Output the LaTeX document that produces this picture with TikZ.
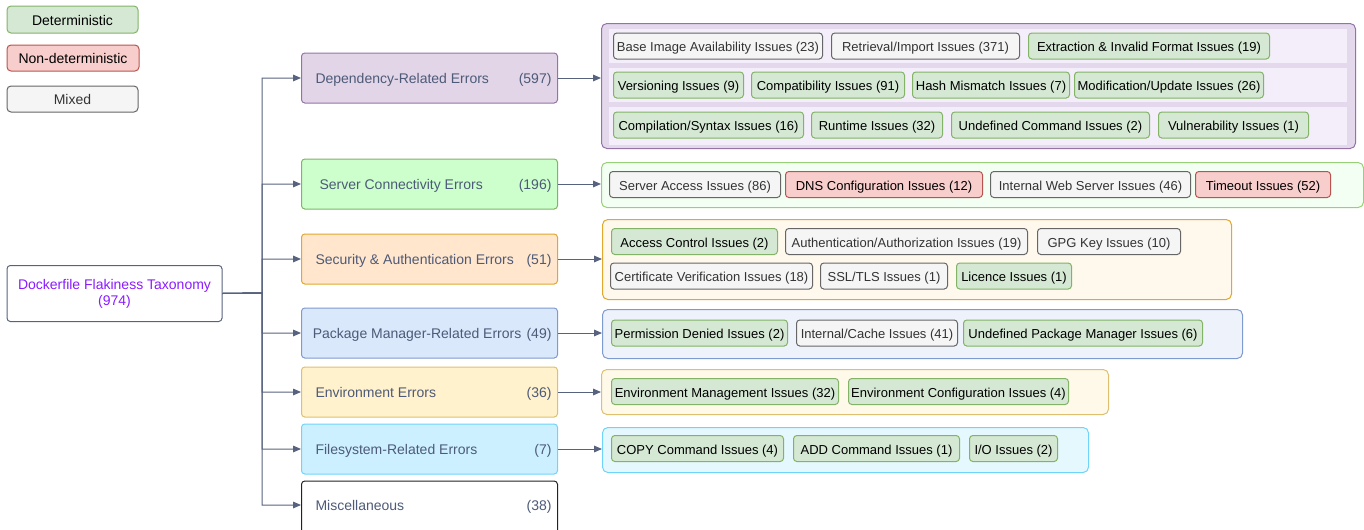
\documentclass[tikz,border=0pt]{standalone}
\usepackage{fontspec}
\setmainfont{Liberation Sans}
\usetikzlibrary{arrows.meta}
\definecolor{detfill}{HTML}{D5E8D4}\definecolor{detdraw}{HTML}{82B366}
\definecolor{ndfill}{HTML}{F8CECC}\definecolor{nddraw}{HTML}{B85450}
\definecolor{mixfill}{HTML}{F5F5F5}\definecolor{mixdraw}{HTML}{666666}
\definecolor{mixtext}{HTML}{333333}
\definecolor{cattext}{HTML}{4D5A78}\definecolor{linecol}{HTML}{56627E}
\definecolor{roottext}{HTML}{8C1AFF}
\definecolor{depfill}{HTML}{E1D5E7}\definecolor{depdraw}{HTML}{9673A6}
\definecolor{depbg}{HTML}{E4D8ED}\definecolor{deprow}{HTML}{F4EEFA}
\definecolor{srvfill}{HTML}{CCFFCC}\definecolor{srvbg}{HTML}{F2FFF2}\definecolor{srvdraw}{HTML}{97D077}
\definecolor{secfill}{HTML}{FFE6CC}\definecolor{secbg}{HTML}{FFF8ED}\definecolor{secdraw}{HTML}{E0A82E}
\definecolor{pkgfill}{HTML}{DAE8FC}\definecolor{pkgbg}{HTML}{EEF2FA}\definecolor{pkgdraw}{HTML}{7E9BCF}
\definecolor{envfill}{HTML}{FFF2CC}\definecolor{envbg}{HTML}{FFF9EA}\definecolor{envdraw}{HTML}{DEC070}
\definecolor{fsfill}{HTML}{CCF0FF}\definecolor{fsbg}{HTML}{E5F8FE}\definecolor{fsdraw}{HTML}{70D4FA}
\definecolor{miscdraw}{HTML}{222222}
\tikzset{
  w/.style={minimum width=#1*0.75pt},
  h/.style={minimum height=#1*0.75pt},
  box/.style={draw, rounded corners=2.5pt, inner sep=0pt, line width=0.75pt},
  low/.style={text height=1.05em, text depth=0.2em},
  item/.style={box, low, anchor=west, h=26, font=\fontsize{9.75}{11}\selectfont},
  det/.style={item, fill=detfill, draw=detdraw},
  nondet/.style={item, fill=ndfill, draw=nddraw},
  mixed/.style={item, fill=mixfill, draw=mixdraw, text=mixtext},
  legend/.style={box, low, rounded corners=3pt, font=\fontsize{10.5}{12}\selectfont},
  cat/.style 2 args={box, low, fill=#1, draw=#2, anchor=west, w=256, h=50, text=cattext, font=\fontsize{10.5}{12}\selectfont},
  panel/.style 2 args={draw=#2, fill=#1, rounded corners=4pt, inner sep=0pt, line width=0.75pt, anchor=north west},
  strip/.style={fill=deprow, inner sep=0pt, anchor=north west, w=738, h=34},
  conn/.style={draw=linecol, line width=0.75pt, -{Triangle[length=6pt,width=5pt]}},
}
\begin{document}
\begin{tikzpicture}[x=0.75pt, y=-0.75pt]
\def\catlab#1#2{\makebox[183pt]{\hspace*{6pt}#1\hfill#2}}
\useasboundingbox (0,0) rectangle (1364,529);
% legend
\node[legend, fill=detfill, draw=detdraw, w=131, h=27] (ldet) at (72.5,19.5) {Deterministic};
\node[legend, fill=ndfill, draw=nddraw, w=132, h=26] (lnd) at (73,58) {Non-deterministic};
\node[legend, fill=mixfill, draw=mixdraw, text=mixtext, w=131, h=26] (lmix) at (72.5,99) {Mixed};
% root
\node[box, draw=linecol, w=215, h=56, align=center, text=roottext, font=\fontsize{10.5}{12}\selectfont] (root) at (114.5,293.5) {Dockerfile Flakiness Taxonomy\\(974)};
\coordinate (trunk) at (262,293);
% categories
\node[cat={depfill}{depdraw}] (dep) at (301,78) {\catlab{Dependency-Related Errors}{(597)}};
\node[cat={srvfill}{detdraw}] (srv) at (301,184) {\catlab{\hspace*{3pt}Server Connectivity Errors}{(196)}};
\node[cat={secfill}{secdraw}] (sec) at (301,259) {\catlab{Security \& Authentication Errors}{(51)}};
\node[cat={pkgfill}{pkgdraw}] (pkg) at (301,333) {\catlab{\hspace*{-2pt}Package Manager-Related Errors}{(49)}};
\node[cat={envfill}{envdraw}] (env) at (301,392) {\catlab{Environment Errors}{(36)}};
\node[cat={fsfill}{fsdraw}] (fs) at (301,449) {\catlab{Filesystem-Related Errors}{(7)}};
\node[cat={white}{miscdraw}, h=56] (misc) at (301,509) {\raisebox{3pt}{\catlab{Miscellaneous}{(38)}}};
% panels
\node[panel={depbg}{depdraw}, w=754, h=125] (deppan) at (601,23) {};
\node[strip] (row1) at (609,29) {};
\node[strip] (row2) at (609,68) {};
\node[strip, h=38] (row3) at (609,107) {};
\node[panel={srvbg}{srvdraw}, w=762, h=45] (srvpan) at (601,162) {};
\node[panel={secbg}{secdraw}, w=629, h=80] (secpan) at (602,219) {};
\node[panel={pkgbg}{pkgdraw}, w=640, h=49] (pkgpan) at (602,309) {};
\node[panel={envbg}{envdraw}, w=507, h=45] (envpan) at (601,369) {};
\node[panel={fsbg}{fsdraw}, w=486, h=45] (fspan) at (602,427) {};
% dependency issues
\node[mixed, w=209] (base) at (613,46) {Base Image Availability Issues (23)};
\node[mixed, w=188] (retr) at (831,46) {Retrieval/Import Issues (371)};
\node[det, w=241] (extr) at (1028,46) {Extraction \& Invalid Format Issues (19)};
\node[det, w=130] (vers) at (613,85) {Versioning Issues (9)};
\node[det, w=153] (compat) at (751,85) {Compatibility Issues (91)};
\node[det, w=157] (hash) at (912,85) {Hash Mismatch Issues (7)};
\node[det, w=189] (modif) at (1074,85) {Modification/Update Issues (26)};
\node[det, w=190] (compil) at (613,125) {Compilation/Syntax Issues (16)};
\node[det, w=131] (runtime) at (811,125) {Runtime Issues (32)};
\node[det, w=198] (undef) at (951,125) {Undefined Command Issues (2)};
\node[det, w=150] (vuln) at (1158,125) {Vulnerability Issues (1)};
% server issues
\node[mixed, w=171] (sacc) at (609,184.5) {Server Access Issues (86)};
\node[nondet, w=197] (dns) at (785,184.5) {DNS Configuration Issues (12)};
\node[mixed, w=200] (iws) at (990,184.5) {Internal Web Server Issues (46)};
\node[nondet, w=135] (tout) at (1195,184.5) {Timeout Issues (52)};
% security issues
\node[det, w=166] (acc) at (611,241.5) {Access Control Issues (2)};
\node[mixed, w=242] (auth) at (785,241.5) {Authentication/Authorization Issues (19)};
\node[mixed, w=143] (gpg) at (1037,241.5) {GPG Key Issues (10)};
\node[mixed, w=202] (cert) at (610,276) {Certificate Verification Issues (18)};
\node[mixed, w=127] (ssl) at (820,276) {SSL/TLS Issues (1)};
\node[det, w=115] (lic) at (956,276) {Licence Issues (1)};
% package manager issues
\node[det, w=176] (perm) at (611,333) {Permission Denied Issues (2)};
\node[mixed, w=161] (cache) at (796,333) {Internal/Cache Issues (41)};
\node[det, w=239] (upm) at (963,333) {Undefined Package Manager Issues (6)};
% environment issues
\node[det, w=227] (emgmt) at (611,391.5) {Environment Management Issues (32)};
\node[det, w=220] (econf) at (848,391.5) {Environment Configuration Issues (4)};
% filesystem issues
\node[det, w=172] (copy) at (611,448.5) {COPY Command Issues (4)};
\node[det, w=166] (add) at (793,448.5) {ADD Command Issues (1)};
\node[det, w=88] (io) at (969,448.5) {I/O Issues (2)};
% connectors
\foreach \c in {dep,srv,sec,pkg,env,fs}
  \draw[conn] (root.east) -- (trunk) |- (\c.west);
\draw[conn] (root.east) -- (trunk) |- (misc.west |- 0,505);
\foreach \c in {dep,srv,sec,pkg,env,fs}
  \draw[conn] (\c.east) -- (\c.east -| \c pan.west);
\end{tikzpicture}
\end{document}
